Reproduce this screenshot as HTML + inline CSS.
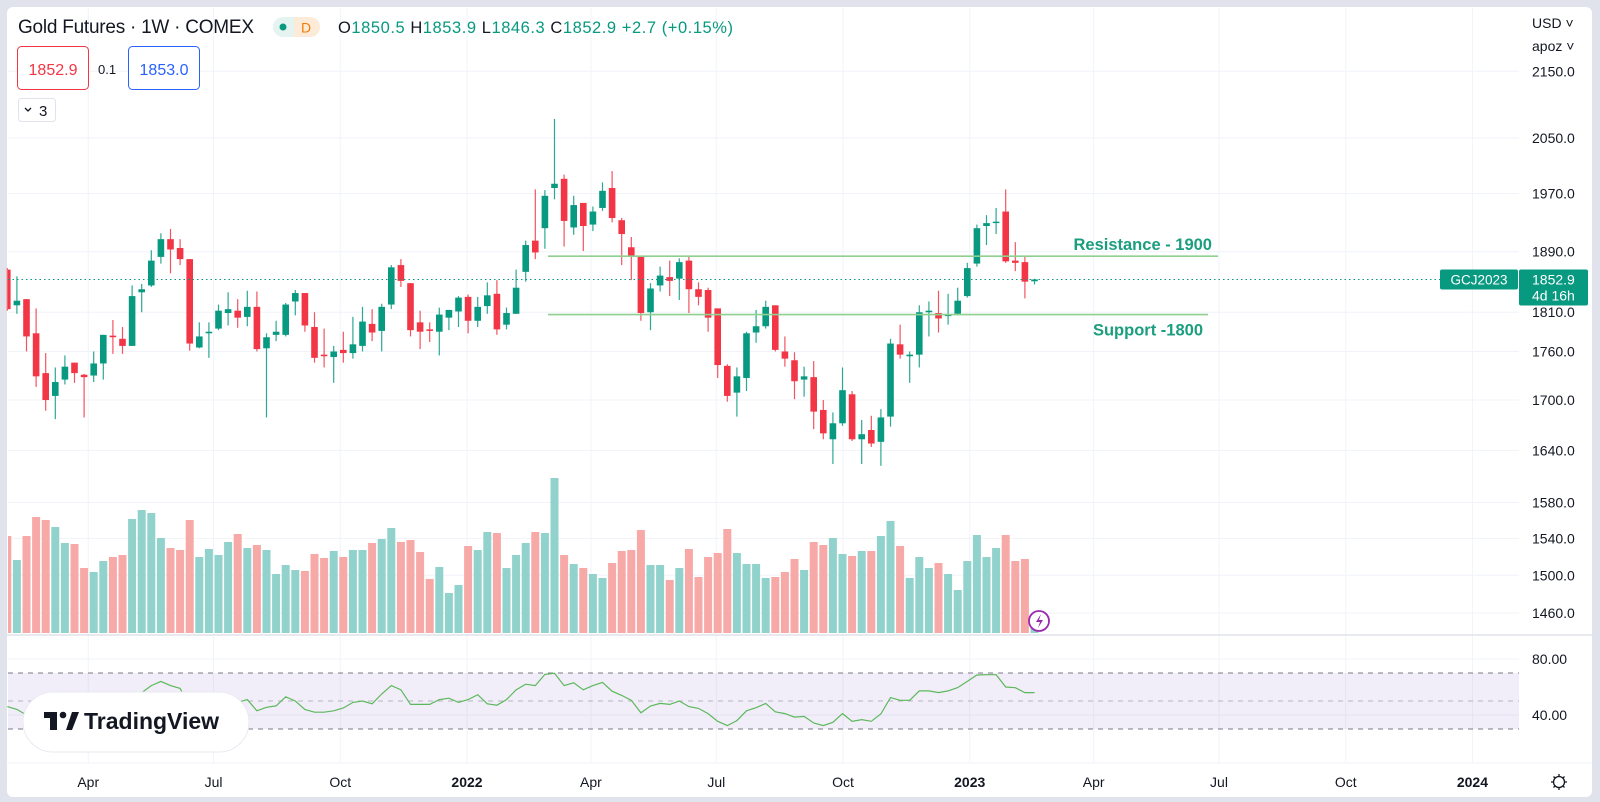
<!DOCTYPE html>
<html><head><meta charset="utf-8"><style>
html,body{margin:0;padding:0;background:#e0e3eb;}
svg{display:block;font-family:"Liberation Sans",Arial,sans-serif;}
</style></head><body>
<svg id="c" width="1600" height="802" viewBox="0 0 1600 802" xmlns="http://www.w3.org/2000/svg">
<rect x="0" y="0" width="1600" height="802" fill="#e0e3eb"/>
<rect x="7" y="7" width="1585" height="790" rx="6" fill="#ffffff"/>
<g id="grid"></g>
<g id="rsiPane"></g>
<g id="vol"></g>
<g id="candles"></g>
<g id="levels"></g>
<g id="axes"></g>

<text x="18" y="33" font-size="19" fill="#131722" textLength="236">Gold Futures · 1W · COMEX</text>
<g>
<rect x="273" y="17" width="47" height="20" rx="10" fill="#e6f4f1"/>
<path d="M294 17 h16 a10 10 0 0 1 0 20 h-16 z" fill="#fdebd9"/>
<circle cx="283" cy="27" r="3.5" fill="#089981"/>
<text x="301" y="32.5" font-size="14" fill="#f57c00">D</text>
</g>
<text x="338" y="33" font-size="16.5" fill="#131722" textLength="395">O<tspan fill="#089981">1850.5</tspan> H<tspan fill="#089981">1853.9</tspan> L<tspan fill="#089981">1846.3</tspan> C<tspan fill="#089981">1852.9 +2.7 (+0.15%)</tspan></text>
<g><rect x="17.5" y="46.5" width="71" height="43" rx="4" fill="#fff" stroke="#f23645"/><text x="53" y="75" font-size="16" fill="#f23645" text-anchor="middle">1852.9</text></g>
<text x="98" y="74" font-size="13" fill="#131722">0.1</text>
<g><rect x="128.5" y="46.5" width="71" height="43" rx="4" fill="#fff" stroke="#2962ff"/><text x="164" y="75" font-size="16" fill="#2962ff" text-anchor="middle">1853.0</text></g>
<g><rect x="18.5" y="98.5" width="37" height="23" rx="3" fill="#fff" stroke="#e0e3eb"/><path d="M25 108 l3 3 l3 -3" stroke="#131722" fill="none" stroke-width="1.3"/><text x="39" y="116" font-size="15" fill="#131722">3</text></g>

<text x="1532" y="28" font-size="14" fill="#131722">USD ˅</text>
<text x="1532" y="51" font-size="14" fill="#131722">apoz ˅</text>

<g>
<rect x="23" y="692" width="226" height="60" rx="30" fill="#fff" stroke="#e8eaf0"/>
<rect x="44" y="712" width="13" height="6" fill="#131722"/><rect x="50" y="712" width="7" height="18" fill="#131722"/>
<circle cx="63" cy="715" r="3.3" fill="#131722"/><path d="M66 730 L72 712 L79 712 L72 730 Z" fill="#131722"/>
<text x="84" y="729" font-size="23" font-weight="bold" fill="#131722">TradingView</text>
</g>
<g><circle cx="1039" cy="621" r="10" fill="#fff" stroke="#9c27b0" stroke-width="1.8"/><path d="M1041 614 l-5 8 h4 l-2 6 l5 -8 h-4 z" fill="#9c27b0"/></g>
<g><circle cx="1559" cy="782" r="5.5" fill="none" stroke="#131722" stroke-width="1.3"/><path d="M1559 774v2M1559 788v2M1551 782h2M1565 782h2M1553.5 776.5l1.4 1.4M1563.1 786.1l1.4 1.4M1553.5 787.5l1.4-1.4M1563.1 777.9l1.4-1.4" stroke="#131722" stroke-width="1.3"/></g>

<script>
// ---- data ----
const startDate = "2021-01-31"; // first weekly bar
const opens  = [1866,1819,1827,1783,1733,1705,1725,1746,1731,1730,1745,1780,1776,1767,1836,1845,1883,1907,1895,1880,1765,1783,1789,1809,1812,1804,1817,1764,1781,1781,1824,1835,1791,1756,1753,1762,1758,1767,1795,1786,1820,1872,1848,1797,1788,1785,1803,1811,1830,1799,1818,1834,1794,1808,1863,1905,1922,1978,1991,1923,1957,1927,1950,1978,1933,1896,1884,1810,1845,1856,1854,1878,1840,1839,1815,1742,1709,1727,1784,1792,1819,1760,1749,1725,1728,1688,1653,1672,1707,1653,1664,1650,1680,1769,1754,1756,1810,1809,1805,1808,1831,1874,1925,1929,1945,1878,1876,1850.5];
const highs  = [1868,1857,1827,1815,1758,1740,1755,1746,1732,1760,1781,1800,1791,1845,1847,1892,1915,1921,1907,1880,1797,1797,1820,1836,1827,1838,1837,1783,1799,1822,1839,1835,1810,1789,1767,1785,1804,1817,1814,1821,1872,1880,1848,1812,1797,1816,1813,1831,1833,1830,1849,1852,1816,1866,1905,1976,1975,2078,1997,1967,1957,1952,1986,2002,1936,1910,1884,1848,1870,1878,1881,1883,1849,1842,1815,1744,1740,1785,1813,1825,1819,1779,1759,1741,1748,1700,1685,1740,1711,1676,1681,1689,1776,1794,1760,1819,1824,1838,1834,1842,1875,1927,1940,1950,1976,1903,1883,1853.9];
const lows   = [1812,1808,1760,1716,1687,1677,1719,1721,1679,1722,1725,1757,1757,1767,1810,1843,1874,1861,1872,1761,1764,1752,1787,1793,1790,1792,1760,1679,1773,1779,1806,1785,1746,1740,1721,1746,1751,1760,1773,1760,1814,1843,1779,1763,1772,1755,1787,1791,1783,1791,1808,1781,1788,1808,1850,1880,1894,1962,1897,1913,1891,1918,1946,1930,1872,1852,1799,1787,1837,1831,1826,1809,1819,1785,1727,1698,1680,1711,1771,1789,1760,1741,1701,1704,1665,1653,1624,1669,1651,1624,1644,1622,1668,1751,1721,1740,1779,1784,1794,1806,1829,1870,1899,1914,1875,1864,1828,1846.3];
const closes = [1814,1825,1779,1729,1700,1722,1741,1733,1728,1745,1781,1778,1767,1831,1840,1878,1907,1893,1880,1770,1779,1785,1812,1814,1803,1817,1763,1778,1785,1820,1835,1793,1752,1754,1760,1758,1769,1798,1784,1817,1869,1851,1787,1785,1786,1807,1813,1829,1799,1817,1832,1788,1809,1842,1899,1889,1967,1984,1932,1954,1925,1945,1974,1936,1914,1883,1809,1841,1858,1851,1876,1840,1830,1803,1743,1705,1729,1783,1792,1817,1762,1751,1723,1729,1686,1660,1672,1712,1653,1659,1648,1679,1770,1756,1756,1810,1812,1802,1807,1825,1868,1922,1929,1931,1877,1875,1850,1852.9];
const volumes = [97,73,97,116,113,106,90,89,65,61,72,76,78,114,123,120,95,85,83,113,76,84,78,91,99,85,88,83,59,68,63,62,79,75,82,76,83,83,90,94,105,91,93,81,54,66,40,48,87,83,101,100,65,78,90,101,100,155,78,69,65,59,55,70,82,83,103,68,68,53,65,84,56,76,80,104,80,69,69,55,56,61,74,63,91,88,95,79,77,82,82,97,112,87,55,76,65,70,59,43,72,98,76,85,98,72,74,10];
const rsiValues = [46,44,40,36,33,35,37,36,36,38,44,44,43,52,56,61,64,61,59,46,47,47,50,51,49,51,43,45.5,46.5,53,50,44,42,42,43,45,49,50,48,55,61,58,47.6,47.6,47.6,51,52,49,51,54.5,48,47,51,58,62,61,69,69.8,61,63,58,61,63.3,57,54,50.5,41.6,46.4,48.3,47.6,50,46,44.7,41,35.5,32.4,36,43,45.2,48.3,42.3,41,38.5,39,34.3,32.4,34.8,41,35.5,36.7,35.5,40.8,52.4,50.5,50.5,57.2,57.2,56,57.2,59.6,64,68.6,68.8,68.8,60,59.5,56,56];
const priceTicks = [2150,2050,1970,1890,1810,1760,1700,1640,1580,1540,1500,1460];
const rsiTicks = [80,40];
const rsiBands = [70,50,30];
const timeTickLabels = ["Apr","Jul","Oct","2022","Apr","Jul","Oct","2023","Apr","Jul","Oct","2024"];
const timeTickDates = ["2021-04-01","2021-07-01","2021-10-01","2022-01-01","2022-04-01","2022-07-01","2022-10-01","2023-01-01","2023-04-01","2023-07-01","2023-10-01","2024-01-01"];
const levelPrices = [1884,1807];
const levelLabels = ["Resistance - 1900","Support -1800"];
const lastPrice = 1852.9;

// ---- scales ----
const NS="http://www.w3.org/2000/svg";
const X0=7.3, STEP=9.6;
const DAY0=Date.UTC(2022,0,1), PXDAY=1.3773, X2022=467;
function xIdx(i){return X0+i*STEP;}
function xDate(s){const d=new Date(s+"T00:00:00Z").getTime();return X2022+(d-DAY0)/86400000*PXDAY;}
function yP(p){return 251.7+1400*Math.log(1890/p);}
function yV(v){return 633-v*1.0;}
function yR(r){return 715-(r-40)*1.4;}
function mk(tag,attrs,parent){const e=document.createElementNS(NS,tag);for(const k in attrs)e.setAttribute(k,attrs[k]);parent.appendChild(e);return e;}

const grid=document.getElementById('grid');
const axes=document.getElementById('axes');
const CR=1519;
priceTicks.forEach(p=>{
  const y=yP(p);
  const l=mk('line',{x1:8,x2:CR,y1:y,y2:y,stroke:'#f0f3fa','stroke-width':1},grid);
  
  
  const t=mk('text',{x:1532,y:y+5,'font-size':14,fill:'#131722'},axes);
  t.textContent=p.toFixed(1);
  
  
});
timeTickDates.forEach((d,k)=>{
  const x=xDate(d);
  const l=mk('line',{x1:x,x2:x,y1:8,y2:763,stroke:'#f0f3fa','stroke-width':1},grid);
  
  
  const lab=timeTickLabels[k];
  const bold=/^\d{4}$/.test(lab);
  const t=mk('text',{x:x,y:787,'font-size':14,'text-anchor':'middle',fill:'#131722','font-weight':bold?'bold':'normal'},axes);
  t.textContent=lab;
  
  
});
let s=mk('line',{x1:7,x2:1592,y1:635,y2:635,stroke:'#e0e3eb','stroke-width':1.5},grid);


s=mk('line',{x1:7,x2:1592,y1:763,y2:763,stroke:'#f0f3fa','stroke-width':1},grid);



const rp=document.getElementById('rsiPane');
rsiTicks.forEach(r=>{
  const y=yR(r);
  const l=mk('line',{x1:8,x2:CR,y1:y,y2:y,stroke:'#f0f3fa'},rp);
  
  
  const t=mk('text',{x:1532,y:y+5,'font-size':14,fill:'#131722'},axes);
  t.textContent=r.toFixed(2);
  
  
});
const band=mk('rect',{x:8,y:yR(rsiBands[0]),width:CR-8,height:yR(rsiBands[2])-yR(rsiBands[0]),fill:'rgba(126,87,194,0.1)'},rp);


rsiBands.forEach((r,k)=>{
  const y=yR(r);
  const l=mk('line',{x1:8,x2:CR,y1:y,y2:y,stroke:k===1?'#b2b5be':'#787b86','stroke-dasharray':'5 5','stroke-width':1},rp);
  
  
});
const rsiPts=rsiValues.map((r,i)=>xIdx(i).toFixed(1)+','+yR(r).toFixed(1)).join(' ');
const rl=mk('polyline',{points:rsiPts,fill:'none',stroke:'#5cb85c','stroke-width':1.2},rp);



const vg=document.getElementById('vol');
volumes.forEach((v,i)=>{
  const up=closes[i]>=opens[i];
  const x=xIdx(i);
  const x1=Math.max(8,x-4);
  const r=mk('rect',{x:x1,y:yV(v),width:x+4-x1,height:633-yV(v),fill:up?'#92d2cc':'#f7a9a7'},vg);
  
  
});

const cg=document.getElementById('candles');
opens.forEach((o,i)=>{
  const c=closes[i],h=highs[i],l=lows[i];
  const up=c>=o;
  const col=up?'#089981':'#f23645';
  const x=xIdx(i);
  const g=mk('g',{},cg);
  
  
  mk('line',{x1:x,x2:x,y1:yP(h),y2:yP(l),stroke:col,'stroke-width':1.2,opacity:0.85},g);
  const top=yP(Math.max(o,c)),bot=yP(Math.min(o,c));
  const bx=Math.max(8,x-3.3);
  mk('rect',{x:bx,y:top,width:x+3.3-bx,height:Math.max(1.2,bot-top),fill:col},g);
});

const lg=document.getElementById('levels');
const lvEnd=[1218,1208];
levelPrices.forEach((p,k)=>{
  const y=yP(p);
  const l=mk('line',{x1:548,x2:lvEnd[k],y1:y,y2:y,stroke:'#8fcf8f','stroke-width':1.6},lg);
  
  
  const t=mk('text',{x:k===0?1212:1203,y:k===0?y-6:y+21,'font-size':16.5,'font-weight':'bold',fill:'#1b9e7f','text-anchor':'end'},lg);
  t.textContent=levelLabels[k];
  
  
});
const ly=yP(lastPrice);
let pl=mk('line',{x1:8,x2:1440,y1:ly,y2:ly,stroke:'#089981','stroke-width':1,'stroke-dasharray':'1.5 3'},lg);


let sb=mk('rect',{x:1440,y:ly-10,width:78,height:20,rx:2,fill:'#089981'},axes);


let st=mk('text',{x:1479,y:ly+5,'font-size':13.5,fill:'#fff','text-anchor':'middle'},axes);
st.textContent='GCJ2023';


let pb=mk('rect',{x:1519,y:ly-10,width:69,height:36,rx:2,fill:'#089981'},axes);


let pt=mk('text',{x:1532,y:ly+5,'font-size':14,fill:'#fff'},axes);
pt.textContent=lastPrice.toFixed(1);


let ct=mk('text',{x:1532,y:ly+21,'font-size':14,fill:'#fff'},axes);
ct.textContent='4d 16h';


</script>
</svg>
</body></html>
